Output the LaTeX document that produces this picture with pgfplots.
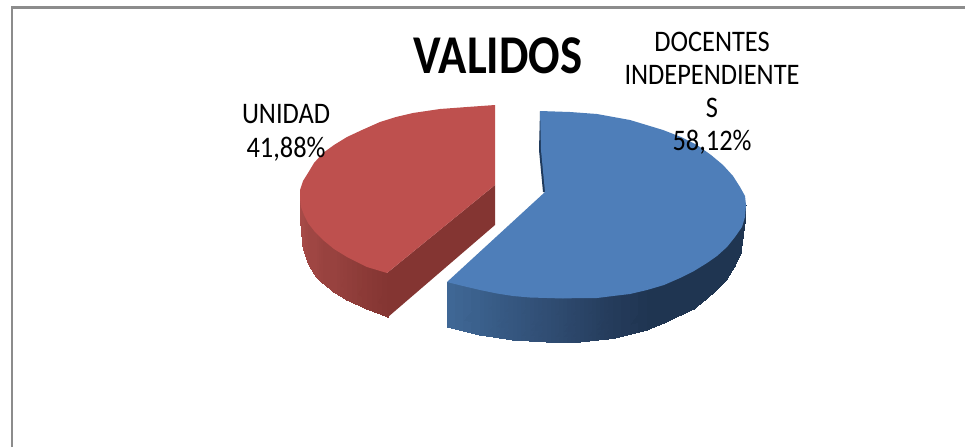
\documentclass[border=0pt]{standalone}
\usepackage{fontspec}
\setmainfont{Carlito}
\usepackage{pgfplots}
\pgfplotsset{compat=1.18}
\definecolor{frame}{HTML}{8C8C8C}
\definecolor{redtop}{HTML}{BE504E}
\definecolor{redcut}{HTML}{843532}
\definecolor{bluetop}{HTML}{4E7EB9}
\definecolor{bluein}{HTML}{1F3A5C}
\definecolor{b0}{HTML}{3F6795}
\definecolor{b1}{HTML}{3A5F8B}
\definecolor{b2}{HTML}{35567F}
\definecolor{b3}{HTML}{304D73}
\definecolor{b4}{HTML}{2A4467}
\definecolor{b5}{HTML}{243B5A}
\definecolor{b6}{HTML}{1F3551}
\definecolor{r0}{HTML}{AD4E4B}
\definecolor{r1}{HTML}{A64A47}
\definecolor{r2}{HTML}{9F4643}
\definecolor{r3}{HTML}{98423F}
\definecolor{r4}{HTML}{913E3B}
\definecolor{r5}{HTML}{8A3936}
\newcommand{\lab}[1]{\scalebox{1}[1.13]{\fontsize{26.4}{26.4}\selectfont #1}}
\begin{document}
\begin{tikzpicture}
\begin{axis}[
  scale only axis, width=965pt, height=447pt,
  xmin=0, xmax=965, ymin=0, ymax=447, y dir=reverse,
  hide axis, clip=true]
% full page extent
\addplot[draw=none, fill=white, forget plot] coordinates {(0,0) (965,0) (965,447) (0,447)} -- cycle;
% frame
\addplot[frame, line width=2.4pt, forget plot] coordinates {(12.2,447) (12.2,7.4) (965,7.4)};
% red slice, outer wall
\addplot[patch, patch type=rectangle, shader=interp, mesh/color input=explicit, forget plot] coordinates {
 (300,190)[color=r0] (300,200)[color=r0] (301,226)[color=r1] (301,207)[color=r1]
 (301,207)[color=r1] (301,226)[color=r1] (303,247)[color=r1] (304,215)[color=r1]
 (304,215)[color=r1] (303,247)[color=r1] (308,263)[color=r2] (308,223)[color=r2]
 (308,223)[color=r2] (308,263)[color=r2] (315,275)[color=r2] (315,232)[color=r2]
 (315,232)[color=r2] (315,275)[color=r2] (323,283)[color=r3] (323,240)[color=r3]
 (323,240)[color=r3] (323,283)[color=r3] (334,292)[color=r3] (334,249)[color=r3]
 (334,249)[color=r3] (334,292)[color=r3] (347,300)[color=r4] (347,257)[color=r4]
 (347,257)[color=r4] (347,300)[color=r4] (367,309)[color=r5] (367,267)[color=r5]
 (367,267)[color=r5] (367,309)[color=r5] (388,317)[color=redcut] (387,273)[color=redcut]
};
% red slice, cut face
\addplot[fill=redcut, draw=none, forget plot] coordinates {(387,273) (388,317) (495,225) (495,185)} -- cycle;
% red slice, top face
\addplot[fill=redtop, draw=none, forget plot] coordinates {
 (495,105) (467,107) (440,109) (413,113) (396,117) (380,122) (362,130) (347,137) (334,145) (323,153)
 (314,163) (308,173) (303,181) (300,190) (300,199) (301,207) (304,215) (308,223) (315,232) (323,240)
 (334,249) (347,257) (357,262) (367,267) (377,270) (387,273) (495,185)} -- cycle;
% blue slice, outer wall
\addplot[patch, patch type=rectangle, shader=interp, mesh/color input=explicit, forget plot] coordinates {
 (447,282)[color=b0] (447,327)[color=b0] (480,335)[color=b1] (480,290)[color=b1]
 (480,290)[color=b1] (480,335)[color=b1] (513,340)[color=b2] (513,296)[color=b2]
 (513,296)[color=b2] (513,340)[color=b2] (547,342)[color=b3] (547,298)[color=b3]
 (547,298)[color=b3] (547,342)[color=b3] (580,342)[color=b4] (580,298)[color=b4]
 (580,298)[color=b4] (580,342)[color=b4] (613,338.5)[color=b5] (613,296)[color=b5]
 (613,296)[color=b5] (613,338.5)[color=b5] (647,330)[color=b6] (647,290)[color=b6]
 (647,290)[color=b6] (647,330)[color=b6] (664,323)[color=b6] (664,285)[color=b6]
 (664,285)[color=b6] (664,323)[color=b6] (680,315.5)[color=b6] (680,278)[color=b6]
 (680,278)[color=b6] (680,315.5)[color=b6] (694,309)[color=b6] (694,271)[color=b6]
 (694,271)[color=b6] (694,309)[color=b6] (707,298.5)[color=b6] (707,263)[color=b6]
 (707,263)[color=b6] (707,298.5)[color=b6] (717,289.5)[color=b6] (717,256)[color=b6]
 (717,256)[color=b6] (717,289.5)[color=b6] (727,279)[color=b6] (727,247)[color=b6]
 (727,247)[color=b6] (727,279)[color=b6] (735,266)[color=b6] (735,237)[color=b6]
 (735,237)[color=b6] (735,266)[color=b6] (741,253)[color=b6] (742,227)[color=b6]
 (742,227)[color=b6] (741,253)[color=b6] (745,223)[color=b6] (746,205)[color=b6]
};
% blue slice, inner sliver
\addplot[fill=bluein, draw=none, forget plot] coordinates {(540,111) (539,150) (543,192) (547,192) (545,150)} -- cycle;
% blue slice, top face
\addplot[fill=bluetop, draw=none, forget plot] coordinates {
 (540,111) (570,112) (597,114) (630,120) (663,130) (681,137) (697,145) (711,155) (723,165) (733,176) (740,187)
 (745,196) (746,205) (745,217) (742,227) (735,237) (727,247) (717,256) (707,263) (694,271) (680,278)
 (664,285) (647,290) (630,294) (613,296) (597,298) (580,298) (563,298.5) (547,298) (530,297.5) (513,296)
 (497,293.5) (480,290) (463,286) (447,282) (545,192) (541,150)} -- cycle;
% labels
\node[anchor=base, inner sep=0pt] at (axis cs:498,73) {\scalebox{1}[1.17]{\fontsize{46.7}{46.7}\selectfont\bfseries VALIDOS}};
\node[anchor=base, inner sep=0pt] at (axis cs:712,51) {\lab{DOCENTES}};
\node[anchor=base, inner sep=0pt] at (axis cs:712,84) {\lab{INDEPENDIENTE}};
\node[anchor=base, inner sep=0pt] at (axis cs:712,117) {\lab{S}};
\node[anchor=base, inner sep=0pt] at (axis cs:712,150) {\lab{58,12\%}};
\node[anchor=base, inner sep=0pt] at (axis cs:286,123) {\lab{UNIDAD}};
\node[anchor=base, inner sep=0pt] at (axis cs:286,157) {\lab{41,88\%}};
\end{axis}
\end{tikzpicture}
\end{document}
